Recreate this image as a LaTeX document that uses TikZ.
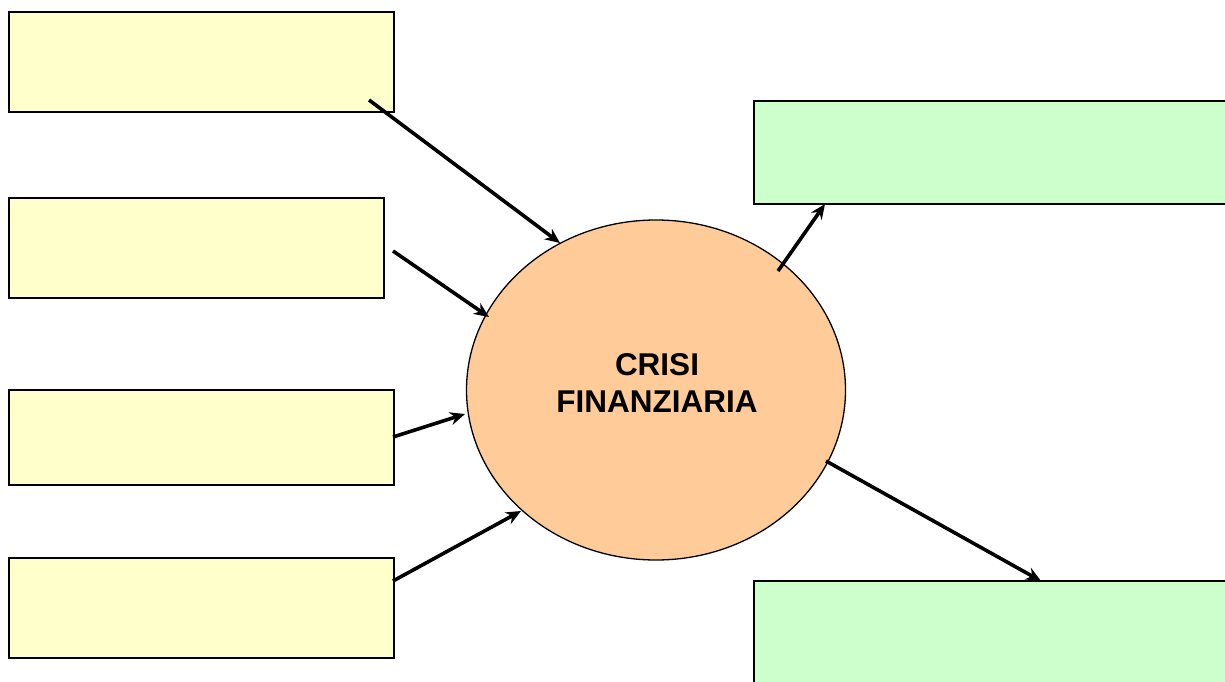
\documentclass[tikz,border=0pt]{standalone}
\usepackage{fontspec}
\setmainfont{Liberation Sans}
\usetikzlibrary{arrows.meta,shapes.geometric}
\definecolor{ybox}{HTML}{FFFFCC}
\definecolor{gbox}{HTML}{CCFFCC}
\definecolor{orng}{HTML}{FFCC99}
\begin{document}
\begin{tikzpicture}[x=1pt,y=-1pt,
  ybx/.style={draw=black,line width=1.8pt,fill=ybox,rectangle,inner sep=0pt},
  gbx/.style={draw=black,line width=1.8pt,fill=gbox,rectangle,inner sep=0pt},
  arr/.style={line width=3.6pt,-{Stealth[length=15pt,width=13pt]}}]
\useasboundingbox (0,0) rectangle (1225,682);
\fill[white] (0,0) rectangle (1225,682);
\node[ybx,minimum width=385pt,minimum height=100pt] (b1) at (201.5,62) {};
\node[ybx,minimum width=375pt,minimum height=100pt] (b2) at (196.5,248) {};
\node[ybx,minimum width=385pt,minimum height=95pt] (b3) at (201.5,437.5) {};
\node[ybx,minimum width=385pt,minimum height=100pt] (b4) at (201.5,608) {};
\node[gbx,minimum width=490pt,minimum height=103pt] (g1) at (999,152.5) {};
\node[gbx,minimum width=490pt,minimum height=120pt] (g2) at (999,641) {};
\node[ellipse,draw=black,line width=1.3pt,fill=orng,minimum width=379pt,minimum height=340pt,inner sep=0pt] (ell) at (656,390) {};
\node[font=\bfseries\fontsize{31.5}{37}\selectfont,align=center] (lbl) at (657,383) {CRISI\\FINANZIARIA};
\coordinate (s1) at (369,100);
\coordinate (e1) at (560,243);
\coordinate (s2) at (393,251);
\coordinate (e2) at (489,317);
\coordinate (s3) at (393,437);
\coordinate (e3) at (465,414);
\coordinate (s4) at (393,581);
\coordinate (e4) at (521,511);
\coordinate (s5) at (778,271);
\coordinate (e5) at (825,204);
\coordinate (s6) at (826,461);
\coordinate (e6) at (1041,581);
\draw[arr] (s1) -- (e1);
\draw[arr] (s2) -- (e2);
\draw[arr] (s3) -- (e3);
\draw[arr] (s4) -- (e4);
\draw[arr] (s5) -- (e5);
\draw[arr] (s6) -- (e6);
\end{tikzpicture}
\end{document}
